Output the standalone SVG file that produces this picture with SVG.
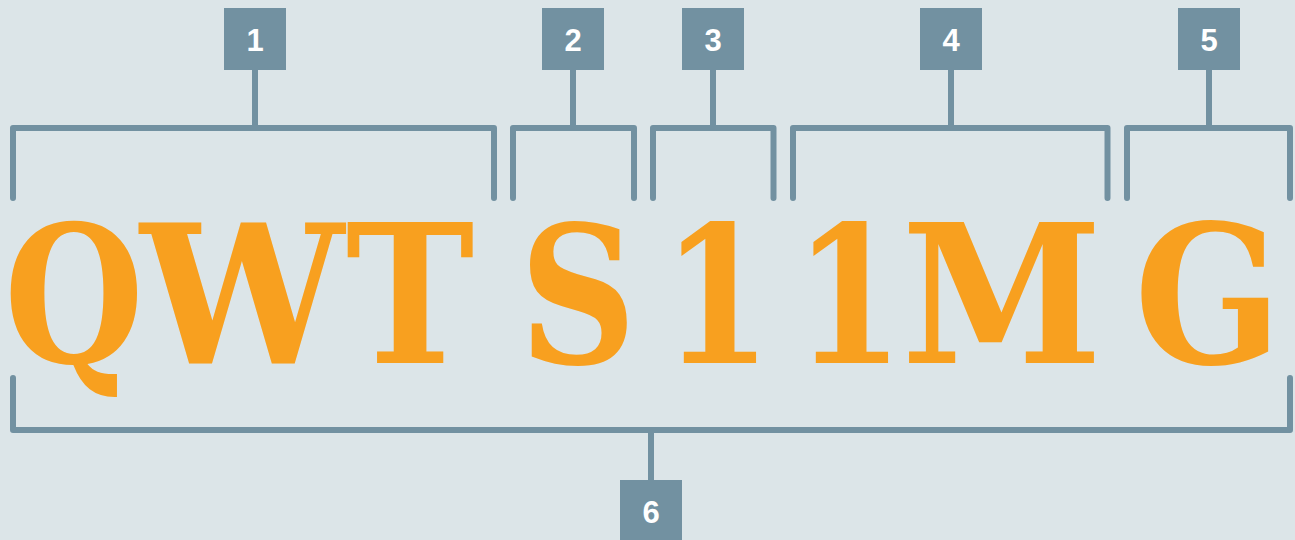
<svg xmlns="http://www.w3.org/2000/svg" width="1295" height="540" viewBox="0 0 1295 540">
<style>
.bg{fill:#dce5e8}
.box{fill:#7291a1}
.num{fill:#ffffff;font-family:"Liberation Sans",Arial,sans-serif;font-weight:bold;font-size:31px;text-anchor:middle}
.ln{fill:none;stroke:#7291a1;stroke-width:6;stroke-linecap:round;stroke-linejoin:round}
.big{fill:#f8a01f;font-family:"DejaVu Serif Condensed","DejaVu Serif",serif;font-weight:bold;font-stretch:condensed;font-size:192px;text-anchor:middle}
</style>
<rect class="bg" x="0" y="0" width="1295" height="540"/>
<g id="letters">
<text class="big" transform="translate(74,363) scale(0.93,1)">Q</text>
<text class="big" transform="translate(242,363) scale(1.05,1)">W</text>
<text class="big" transform="translate(410,363)">T</text>
<text class="big" transform="translate(578,363) scale(0.94,1)">S</text>
<text class="big" transform="translate(717,363) scale(0.91,1)">1</text>
<text class="big" transform="translate(849,363) scale(0.91,1)">1</text>
<text class="big" transform="translate(1002,363) scale(1.05,1)">M</text>
<text class="big" transform="translate(1208,363)">G</text>
</g>
<g id="connectors">
<path class="ln" d="M13,198 V128 H494 V198 M255,70 V128"/>
<path class="ln" d="M513,198 V128 H634 V198 M573,70 V128"/>
<path class="ln" d="M653,198 V128 H773.5 V198 M713,70 V128"/>
<path class="ln" d="M793,198 V128 H1107.5 V198 M951,70 V128"/>
<path class="ln" d="M1127,198 V128 H1290 V198 M1209,70 V128"/>
<path class="ln" d="M13,378 V430 H1290 V378 M651,430 V480"/>
</g>
<g id="n1"><rect class="box" x="224" y="8" width="62" height="62"/><text class="num" x="255" y="51">1</text></g>
<g id="n2"><rect class="box" x="542" y="8" width="62" height="62"/><text class="num" x="573" y="51">2</text></g>
<g id="n3"><rect class="box" x="682" y="8" width="62" height="62"/><text class="num" x="713" y="51">3</text></g>
<g id="n4"><rect class="box" x="920" y="8" width="62" height="62"/><text class="num" x="951" y="51">4</text></g>
<g id="n5"><rect class="box" x="1178" y="8" width="62" height="62"/><text class="num" x="1209" y="51">5</text></g>
<g id="n6"><rect class="box" x="620" y="480" width="62" height="62"/><text class="num" x="651" y="523">6</text></g>
</svg>
